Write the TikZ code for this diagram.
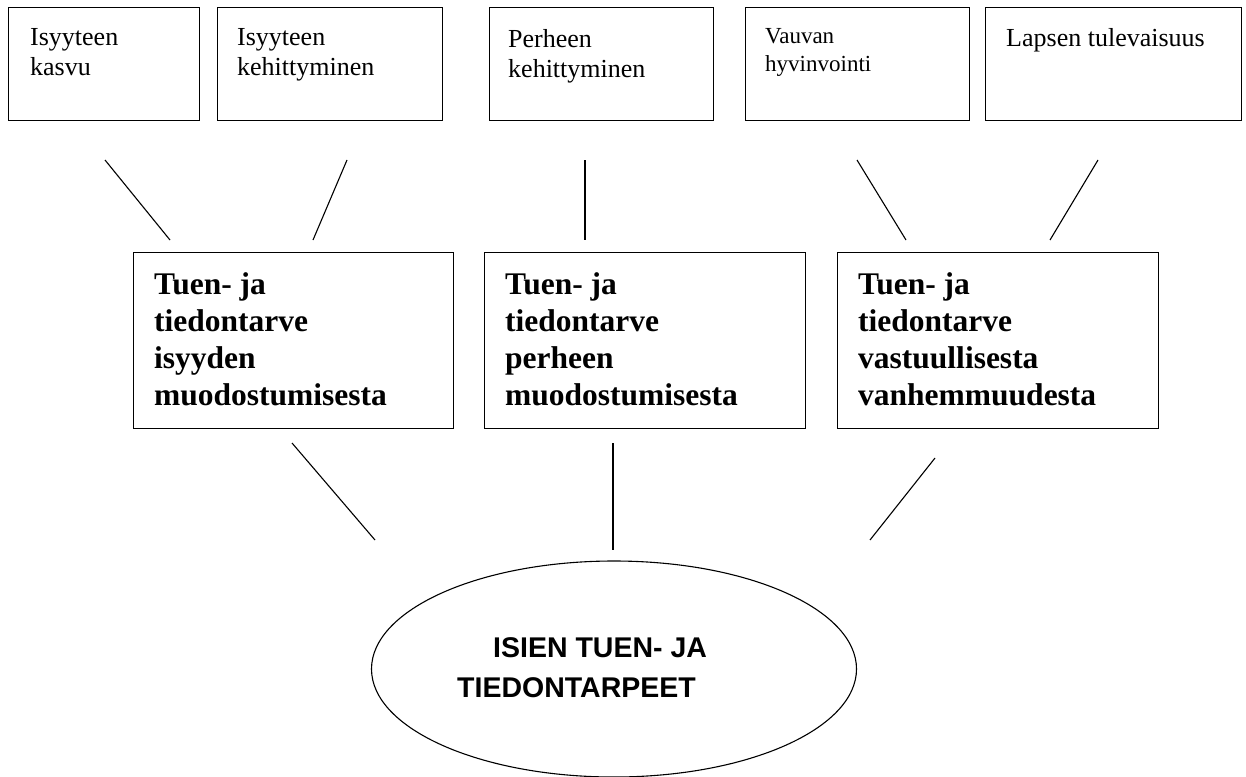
\documentclass[tikz,border=0pt]{standalone}
\usepackage{fontspec}
\setmainfont{Liberation Serif}
\newfontfamily\arialfont{Liberation Sans}
\usetikzlibrary{shapes.geometric}
\begin{document}
\begin{tikzpicture}[x=1pt,y=-1pt,
  topbox/.style={draw,line width=1.3pt,anchor=north west,inner sep=0pt},
  toptext/.style={anchor=north west,inner sep=0pt,align=left,font=\fontsize{26}{30}\selectfont},
  midbox/.style={draw,line width=1.3pt,anchor=north west,inner sep=0pt},
  midtext/.style={anchor=north west,inner sep=0pt,align=left,font=\fontsize{31.5}{37}\selectfont\bfseries},
  elltext/.style={anchor=base west,inner sep=0pt,font=\arialfont\fontsize{28.5}{34}\selectfont\bfseries},
  link/.style={line width=1.1pt}]
\useasboundingbox (0,0) rectangle (1246,776);
% top boxes
\node[topbox,minimum width=191pt,minimum height=113pt] (b1) at (8,7) {};
\node[topbox,minimum width=225pt,minimum height=113pt] (b2) at (217,7) {};
\node[topbox,minimum width=224pt,minimum height=113pt] (b3) at (489,7) {};
\node[topbox,minimum width=224pt,minimum height=113pt] (b4) at (745,7) {};
\node[topbox,minimum width=256pt,minimum height=113pt] (b5) at (985,7) {};
\node[toptext] (t1) at (30,28) {Isyyteen\\kasvu};
\node[toptext] (t2) at (237,28) {Isyyteen\\kehittyminen};
\node[toptext] (t3) at (508,29) {Perheen\\kehittyminen};
\node[toptext,font=\fontsize{23}{28}\selectfont] (t4) at (765,28) {Vauvan\\hyvinvointi};
\node[toptext] (t5) at (1006,28) {Lapsen tulevaisuus};
% middle boxes
\node[midbox,minimum width=320pt,minimum height=176pt] (m1) at (133,252) {};
\node[midbox,minimum width=321pt,minimum height=176pt] (m2) at (484,252) {};
\node[midbox,minimum width=321pt,minimum height=176pt] (m3) at (837,252) {};
\node[midtext] (n1) at (154,272) {Tuen- ja\\tiedontarve\\isyyden\\muodostumisesta};
\node[midtext] (n2) at (505,272) {Tuen- ja\\tiedontarve\\perheen\\muodostumisesta};
\node[midtext] (n3) at (858,272) {Tuen- ja\\tiedontarve\\vastuullisesta\\vanhemmuudesta};
% ellipse
\node[draw,ellipse,line width=1.1pt,minimum width=485pt,minimum height=216pt,inner sep=0pt] (e) at (614,669) {};
\node[elltext] (et1) at (493,657) {ISIEN TUEN- JA};
\node[elltext] (et2) at (457,697) {TIEDONTARPEET};
% connector ends
\coordinate (c1a) at (105,160); \coordinate (c1b) at (170,240);
\coordinate (c2a) at (347,160); \coordinate (c2b) at (313,240);
\coordinate (c3a) at (585,160); \coordinate (c3b) at (585,240);
\coordinate (c4a) at (857,160); \coordinate (c4b) at (906,240);
\coordinate (c5a) at (1098,160); \coordinate (c5b) at (1050,240);
\coordinate (c6a) at (292,443); \coordinate (c6b) at (375,540);
\coordinate (c7a) at (613,443); \coordinate (c7b) at (613,550);
\coordinate (c8a) at (935,458); \coordinate (c8b) at (870,540);
\foreach \i in {1,...,8} {\draw[link] (c\i a) -- (c\i b);}
\end{tikzpicture}
\end{document}
